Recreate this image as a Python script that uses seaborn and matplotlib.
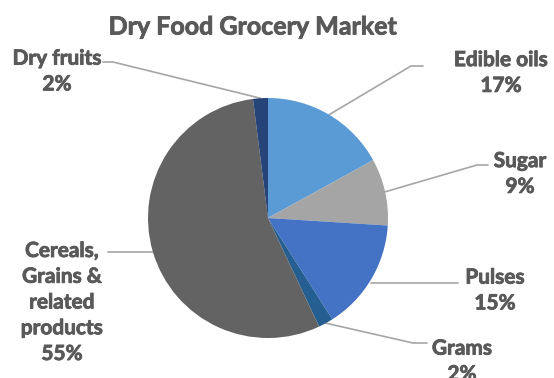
import matplotlib
matplotlib.use("Agg")
import matplotlib.pyplot as plt
import matplotlib.patheffects as pe
import seaborn as sns
import numpy as np

categories = ["Edible oils", "Sugar", "Pulses", "Grams",
              "Cereals,\nGrains &\nrelated\nproducts", "Dry fruits"]
shares = [17, 9, 15, 2, 55, 2]
pct_labels = ["17%", "9%", "15%", "2%", "55%", "2%"]
colors = ["#5B9BD5", "#A5A5A5", "#4472C4", "#255E91", "#636363", "#264478"]

sns.set_theme(style="white")
plt.rcParams['font.family'] = ['Lato', 'DejaVu Sans']

W, H = 554, 378
fig = plt.figure(figsize=(W / 100, H / 100), dpi=100)
cx, cy, R = 268, 218, 120
ax = fig.add_axes([(cx - R) / W, (H - cy - R) / H, 2 * R / W, 2 * R / H])
wedges, _ = ax.pie(shares, colors=sns.color_palette(colors), startangle=90,
                   counterclock=False, radius=1.0,
                   wedgeprops=dict(linewidth=0))
ax.set_xlim(-1, 1)
ax.set_ylim(-1, 1)
ax.set_aspect("equal")
ax.axis("off")

txt_color = "#595959"
bold_fx = [pe.withStroke(linewidth=0.6, foreground=txt_color)]

fig.text(253 / W, 1 - 27 / H, "Dry Food Grocery Market", ha="center", va="center",
         fontsize=18, fontweight="bold", color=txt_color, path_effects=bold_fx)

# label layout (pixels): text block centre, elbow segment (x0, x1, y)
layout = {
    "Edible oils": ((501, 73), (423, 411, 66)),
    "Sugar": ((520, 174), (488, 477, 165)),
    "Pulses": ((495, 290.5), (458, None, 283)),
    "Grams": ((462, 361.5), (427, 413, 343)),
    "Cereals,\nGrains &\nrelated\nproducts": ((62, 302.5), (108, None, 252)),
    "Dry fruits": ((57, 71.5), (103, 113, 62)),
}

def to_data(px, py):
    return (px - cx) / R, (cy - py) / R

for w, cat, pct in zip(wedges, categories, pct_labels):
    (tx, ty), (x0, x1, ly) = layout[cat]
    fig.text(tx / W, 1 - ty / H, cat + "\n" + pct, ha="center", va="center",
             fontsize=15, fontweight="bold", color=txt_color, linespacing=1.36,
             path_effects=bold_fx)
    mid = np.deg2rad((w.theta1 + w.theta2) / 2)
    ax_x, ax_y = np.cos(mid), np.sin(mid)
    if x1 is None:
        px0 = to_data(x0, ly)
        xs = [px0[0], ax_x]
        ys = [px0[1], px0[1]]
    else:
        p0 = to_data(x0, ly)
        p1 = to_data(x1, ly)
        xs = [p0[0], p1[0], ax_x]
        ys = [p0[1], p1[1], ax_y]
    ax.plot(xs, ys, color="#A6A6A6", linewidth=1.2, clip_on=False, zorder=0)

fig.savefig("out.png", dpi=100, facecolor="white")
